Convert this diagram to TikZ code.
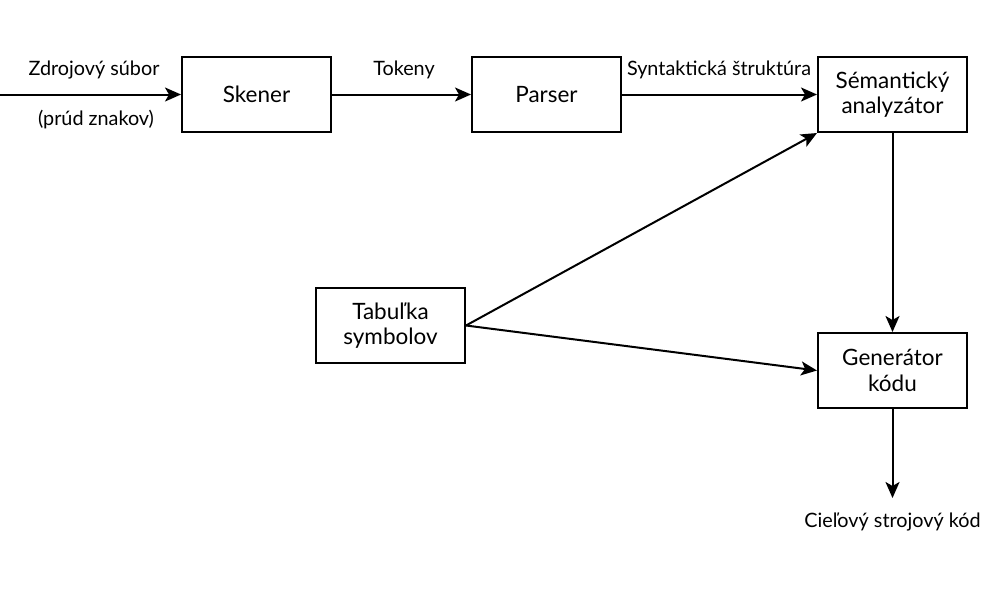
\documentclass[tikz,border=0pt]{standalone}
\usepackage{fontspec}
\setmainfont{Lato}
\usetikzlibrary{arrows.meta}
\begin{document}
\begin{tikzpicture}[x=1pt,y=-1pt,
  blk/.style={draw,line width=2pt,minimum width=149pt,minimum height=75pt,inner sep=0pt,align=center,font=\fontsize{22.5}{25.5}\selectfont},
  lbl/.style={font=\fontsize{19.8}{23}\selectfont,inner sep=0pt},
  arr/.style={line width=2pt,-{Stealth[length=16pt,width=14pt,inset=4pt]}}]
\useasboundingbox (0,0) rectangle (1000,595);
\node[blk] (sken) at (256.5,94.5) {Skener};
\node[blk] (pars) at (546.5,94.5) {Parser};
\node[blk] (sem) at (892.5,94.5) {Sémantický\\analyzátor};
\node[blk] (tab) at (390.5,325.5) {Tabuľka\\symbolov};
\node[blk] (gen) at (892.5,370.5) {Generátor\\kódu};
\coordinate (in) at (0,94.5);
\coordinate (out) at (892.5,498);
\node[lbl] (l1) at (94,70) {Zdrojový súbor};
\node[lbl] (l2) at (96,120) {(prúd znakov)};
\node[lbl] (l3) at (404,70) {Tokeny};
\node[lbl] (l4) at (719,70) {Syntaktická štruktúra};
\node[lbl] (l5) at (892.5,522) {Cieľový strojový kód};
\draw[arr] (in) -- (sken);
\draw[arr] (sken) -- (pars);
\draw[arr] (pars) -- (sem);
\draw[arr] (sem) -- (gen);
\draw[arr] (gen) -- (out);
\draw[arr] (tab.east) -- (sem.south west);
\draw[arr] (tab.east) -- (gen.west);
\end{tikzpicture}
\end{document}
